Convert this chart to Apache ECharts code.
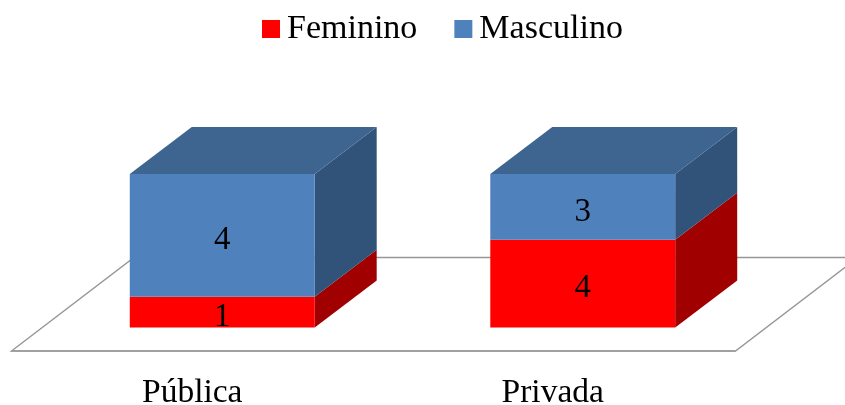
<!DOCTYPE html>
<html>
<head>
<meta charset="utf-8">
<style>html,body{margin:0;padding:0;background:#fff}#c{width:845px;height:405px}</style>
<script src="https://cdn.jsdelivr.net/npm/echarts@6/dist/echarts.min.js"></script>
</head>
<body>
<div id="c"></div>
<script>
var categories = ['Pública', 'Privada'];
var feminino = [1, 4];
var masculino = [4, 3];

var FONT = '"Liberation Serif","Times New Roman",serif';
var DX = 62, DY = -47;

function rows(own, base) {
  return categories.map(function (c, i) {
    var total = feminino[i] + masculino[i];
    var start = (base[i] / total) * 100;
    var end = ((base[i] + own[i]) / total) * 100;
    return [i, start, end, own[i]];
  });
}
var zeros = categories.map(function () { return 0; });

function box(front, side, top, isTop) {
  return function (params, api) {
    var cat = api.value(0);
    var p0 = api.coord([cat, api.value(1)]);
    var p1 = api.coord([cat, api.value(2)]);
    var w = api.size([1, 0])[0] * 0.513;
    var x0 = p0[0] - w / 2, x1 = p0[0] + w / 2;
    var yb = p0[1], yt = p1[1];
    var children = [
      { type: 'polygon', shape: { points: [[x1, yb], [x1 + DX, yb + DY], [x1 + DX, yt + DY], [x1, yt]] }, style: { fill: side } },
      { type: 'rect', shape: { x: x0, y: yt, width: w, height: yb - yt }, style: { fill: front } }
    ];
    if (isTop) {
      children.push({ type: 'polygon', shape: { points: [[x0, yt], [x0 + DX, yt + DY], [x1 + DX, yt + DY], [x1, yt]] }, style: { fill: top } });
    }
    children.push({
      type: 'text',
      style: {
        text: String(api.value(3)), x: p0[0], y: (yb + yt) / 2 + 5,
        align: 'center', verticalAlign: 'middle',
        font: '33px ' + FONT, fill: '#000'
      }
    });
    return { type: 'group', children: children };
  };
}

function floor(params, api) {
  var g = params.coordSys;
  var yf = g.y + g.height;
  var fx = -30.5, fy = 23.5;
  var xl = g.x + fx, xr = g.x + g.width + fx + 3, y = yf + fy;
  var bx = 122.5, by = -93.5;
  return {
    type: 'group',
    children: [
      { type: 'polygon', shape: { points: [[xl, y], [xr, y], [xr + bx, y + by], [xl + bx, y + by]] },
        style: { fill: '#fff', stroke: '#969696', lineWidth: 1.4 } },
      { type: 'line', shape: { x1: xl, y1: y, x2: xr, y2: y },
        style: { stroke: '#a0a0a0', lineWidth: 2.2 } }
    ]
  };
}

var chart = echarts.init(document.getElementById('c'), null, { renderer: 'canvas' });
chart.setOption({
  animation: false,
  backgroundColor: '#fff',
  legend: {
    data: ['Feminino', 'Masculino'],
    left: 262, top: 12, padding: 0,
    icon: 'rect', itemWidth: 18, itemHeight: 18, itemGap: 37,
    textStyle: { fontFamily: FONT, fontSize: 34, color: '#000', padding: [2, 0, 0, 2] },
    selectedMode: false
  },
  grid: { left: 42, right: 82, top: 174, bottom: 77.5, outerBoundsMode: 'none' },
  xAxis: {
    type: 'category', data: categories,
    axisLine: { show: false }, axisTick: { show: false }, splitLine: { show: false },
    axisLabel: { fontFamily: FONT, fontSize: 33.5, color: '#000', margin: 49, padding: [0, 60, 0, 0] }
  },
  yAxis: { type: 'value', min: 0, max: 100, show: false },
  series: [
    { type: 'custom', name: 'floor', silent: true, renderItem: floor, data: [[0, 0, 0, 0]], encode: { x: 0, y: 1 }, clip: false, z: 1 },
    { type: 'custom', name: 'Feminino', itemStyle: { color: '#FF0000' }, renderItem: box('#FF0000', '#A00000', '#A00000', false),
      data: rows(feminino, zeros), encode: { x: 0, y: [1, 2] }, clip: false, z: 2 },
    { type: 'custom', name: 'Masculino', itemStyle: { color: '#4F81BD' }, renderItem: box('#4F81BD', '#325379', '#3E6490', true),
      data: rows(masculino, feminino), encode: { x: 0, y: [1, 2] }, clip: false, z: 3 }
  ]
});
</script>
</body>
</html>
